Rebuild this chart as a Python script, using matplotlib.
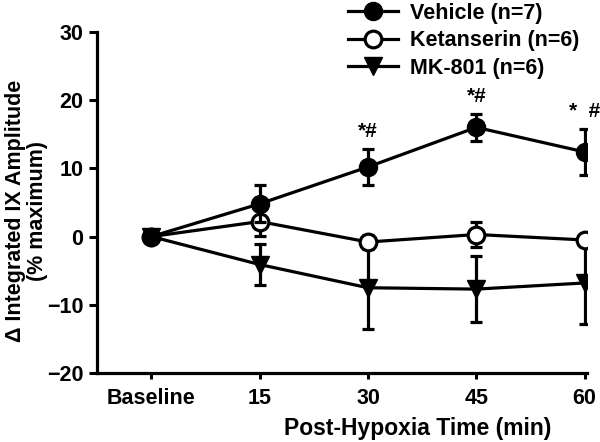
import numpy as np
import matplotlib.pyplot as plt
from matplotlib.lines import Line2D

plt.rcParams['font.family'] = ['Liberation Sans', 'DejaVu Sans']
plt.rcParams['font.weight'] = 'bold'

# Data
time_labels = ['Baseline', '15', '30', '45', '60']
vehicle = [0.0, 4.8, 10.2, 16.0, 12.4]
vehicle_err = [0.0, 2.7, 2.6, 2.0, 3.4]
ketanserin = [0.0, 2.2, -0.8, 0.3, -0.5]
ketanserin_err = [0.0, 2.1, 1.0, 1.9, 0.8]
mk801 = [0.0, -4.1, -7.5, -7.7, -6.8]
mk801_err = [0.0, 3.0, 6.1, 4.8, 6.0]
sig_marks = ['', '', '*#', '*#', '*  #']

x = np.arange(len(time_labels))
lw = 2.3

fig = plt.figure(figsize=(6.0, 4.42), dpi=100)
ax = fig.add_axes([0.162, 0.156, 0.816, 0.772])

common = dict(color='black', lw=lw, elinewidth=lw, capsize=4, capthick=lw)
ax.errorbar(x, mk801, yerr=mk801_err, fmt='-v', ms=13, mfc='black', mec='black',
            zorder=2, **common)
ax.errorbar(x, ketanserin, yerr=ketanserin_err, fmt='-o', ms=12, mfc='white', mec='black',
            mew=lw, zorder=3, **common)
ax.errorbar(x, vehicle, yerr=vehicle_err, fmt='-o', ms=13, mfc='black', mec='black',
            zorder=4, **common)

for xi, yi, ei, s in zip(x, vehicle, vehicle_err, sig_marks):
    if s:
        ax.text(xi, yi + ei + 1.2, s, ha='center', va='bottom', fontsize=15,
                fontweight='bold', clip_on=False)

ax.set_xlim(-0.5, 4.02)
ax.set_ylim(-20, 30)
ax.set_yticks([-20, -10, 0, 10, 20, 30])
ax.set_xticks(x)
ax.set_xticklabels(time_labels)
ax.tick_params(axis='both', labelsize=15.5, width=2.2, direction='out')
ax.tick_params(axis='y', length=6, pad=4)
ax.tick_params(axis='x', length=4, pad=7)

for side in ['top', 'right']:
    ax.spines[side].set_visible(False)
for side in ['left', 'bottom']:
    ax.spines[side].set_linewidth(lw)

ax.set_xlabel('Post-Hypoxia Time (min)', fontsize=16.5, fontweight='bold')
ax.xaxis.set_label_coords(0.655, -0.13)
ax.set_ylabel('\u0394 Integrated IX Amplitude\n(% maximum)', fontsize=15.5,
              fontweight='bold', linespacing=1.08)
ax.yaxis.set_label_coords(-0.100, 0.475)

handles = [
    Line2D([], [], color='black', lw=lw, marker='o', ms=13, mfc='black'),
    Line2D([], [], color='black', lw=lw, marker='o', ms=12, mfc='white', mew=lw),
    Line2D([], [], color='black', lw=lw, marker='v', ms=13, mfc='black'),
]
labels = ['Vehicle (n=7)', 'Ketanserin (n=6)', 'MK-801 (n=6)']
fig.legend(handles, labels, loc='upper left', bbox_to_anchor=(348 / 600, 1 - 3 / 442),
           frameon=False, fontsize=15.5, handlelength=2.3, handletextpad=0.6,
           labelspacing=0.3, borderpad=0, borderaxespad=0)

fig.savefig('out.png', dpi=100)
